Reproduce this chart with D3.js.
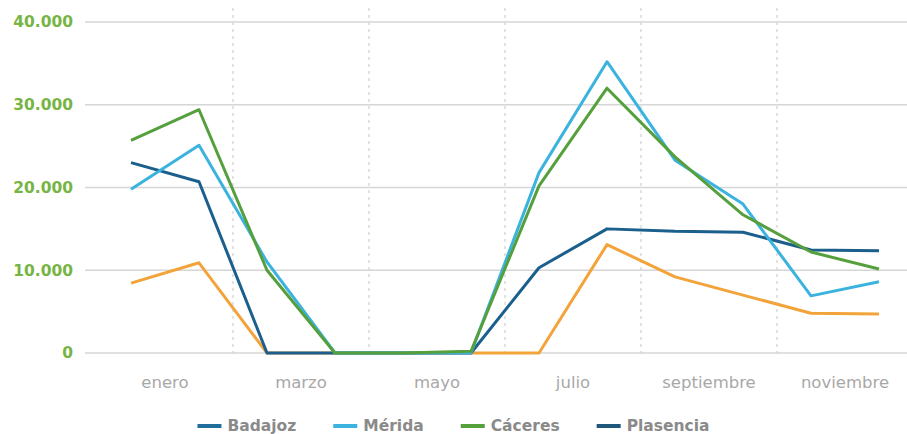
<!DOCTYPE html>
<html>
<head>
<meta charset="utf-8">
<script src="https://cdn.jsdelivr.net/npm/d3@7"></script>
<style>
  body { margin: 0; background: #fff; }
  svg { display: block; font-family: "DejaVu Sans", "Noto Sans", sans-serif; }
</style>
</head>
<body>
<script>
// data
var months = ["enero", "febrero", "marzo", "abril", "mayo", "junio", "julio",
              "agosto", "septiembre", "octubre", "noviembre", "diciembre"];
var yTicks = [0, 10000, 20000, 30000, 40000];

var badajoz   = [23000, 20700, 0, 0, 0, 0, 10300, 15000, 14700, 14600, 12450, 12350];
var merida    = [19800, 25100, 11000, 0, 0, 0, 21800, 35200, 23300, 18000, 6900, 8600];
var caceres   = [25700, 29400, 10000, 0, 0, 200, 20200, 32000, 23700, 16700, 12200, 10150];
var plasencia = [8450, 10900, 0, 0, 0, 0, 0, 13100, 9200, 7000, 4800, 4700];

var series = [
  { name: "Plasencia", values: plasencia, color: "#f2a33a" },
  { name: "Badajoz", values: badajoz, color: "#1b5f8d" },
  { name: "Mérida", values: merida, color: "#3bb3de" },
  { name: "Cáceres", values: caceres, color: "#55a03c" }
];
var legendItems = [
  { name: "Badajoz", color: "#1f6e9c" },
  { name: "Mérida", color: "#3bb3de" },
  { name: "Cáceres", color: "#55a03c" },
  { name: "Plasencia", color: "#1d587a" }
];

var width = 907, height = 434;
var svg = d3.select("body").append("svg")
    .attr("width", width)
    .attr("height", height);

var x = d3.scalePoint().domain(months).range([131, 879]);
var y = d3.scaleLinear().domain([0, 40000]).range([353, 22]);
var step = x.step();

// horizontal grid
svg.append("g").selectAll("line")
  .data(yTicks)
  .enter().append("line")
    .attr("x1", 85).attr("x2", width)
    .attr("y1", function (d) { return y(d); })
    .attr("y2", function (d) { return y(d); })
    .attr("stroke", "#d6d6d6")
    .attr("stroke-width", 1.5);

// vertical dashed separators every two months
var seps = months.filter(function (m, i) { return i % 2 == 1 && i < 11; });
svg.append("g").selectAll("line")
  .data(seps)
  .enter().append("line")
    .attr("x1", function (d) { return x(d) + step / 2; })
    .attr("x2", function (d) { return x(d) + step / 2; })
    .attr("y1", 8).attr("y2", y(0))
    .attr("stroke", "#d0d0d0")
    .attr("stroke-width", 1.2)
    .attr("stroke-dasharray", "3,4");

// y labels
var fmt = function (d) { return d3.format(",")(d).replace(/,/g, "."); };
svg.append("g").selectAll("text")
  .data(yTicks)
  .enter().append("text")
    .attr("x", 73)
    .attr("y", function (d) { return y(d); })
    .attr("dy", "0.35em")
    .attr("text-anchor", "end")
    .attr("fill", "#76b443")
    .attr("font-size", 15.5)
    .attr("font-weight", "bold")
    .text(fmt);

// x labels (every other month, centred in its pair)
var shown = months.filter(function (m, i) { return i % 2 == 0; });
svg.append("g").selectAll("text")
  .data(shown)
  .enter().append("text")
    .attr("x", function (d) { return x(d) + step / 2; })
    .attr("y", 388)
    .attr("text-anchor", "middle")
    .attr("fill", "#a8a8a8")
    .attr("font-size", 16.5)
    .text(function (d) { return d; });

// lines
var line = d3.line()
    .x(function (d, i) { return x(months[i]); })
    .y(function (d) { return y(d); });

svg.append("g").selectAll("path")
  .data(series)
  .enter().append("path")
    .attr("d", function (d) { return line(d.values); })
    .attr("fill", "none")
    .attr("stroke", function (d) { return d.color; })
    .attr("stroke-width", 3)
    .attr("stroke-linejoin", "round");

// legend
var legend = svg.append("g");
var lx = 0;
legendItems.forEach(function (d) {
  var g = legend.append("g").attr("transform", "translate(" + lx + ",0)");
  g.append("line")
    .attr("x1", 0).attr("x2", 24)
    .attr("y1", 0).attr("y2", 0)
    .attr("stroke", d.color)
    .attr("stroke-width", 4);
  var t = g.append("text")
    .attr("x", 30).attr("y", 0)
    .attr("dy", "0.35em")
    .attr("fill", "#8a8a8a")
    .attr("font-size", 15.5)
    .attr("font-weight", "bold")
    .text(d.name);
  lx += 30 + t.node().getComputedTextLength() + 37;
});
lx -= 37;
legend.attr("transform", "translate(" + (width / 2 - lx / 2) + ",426)");
</script>
</body>
</html>
